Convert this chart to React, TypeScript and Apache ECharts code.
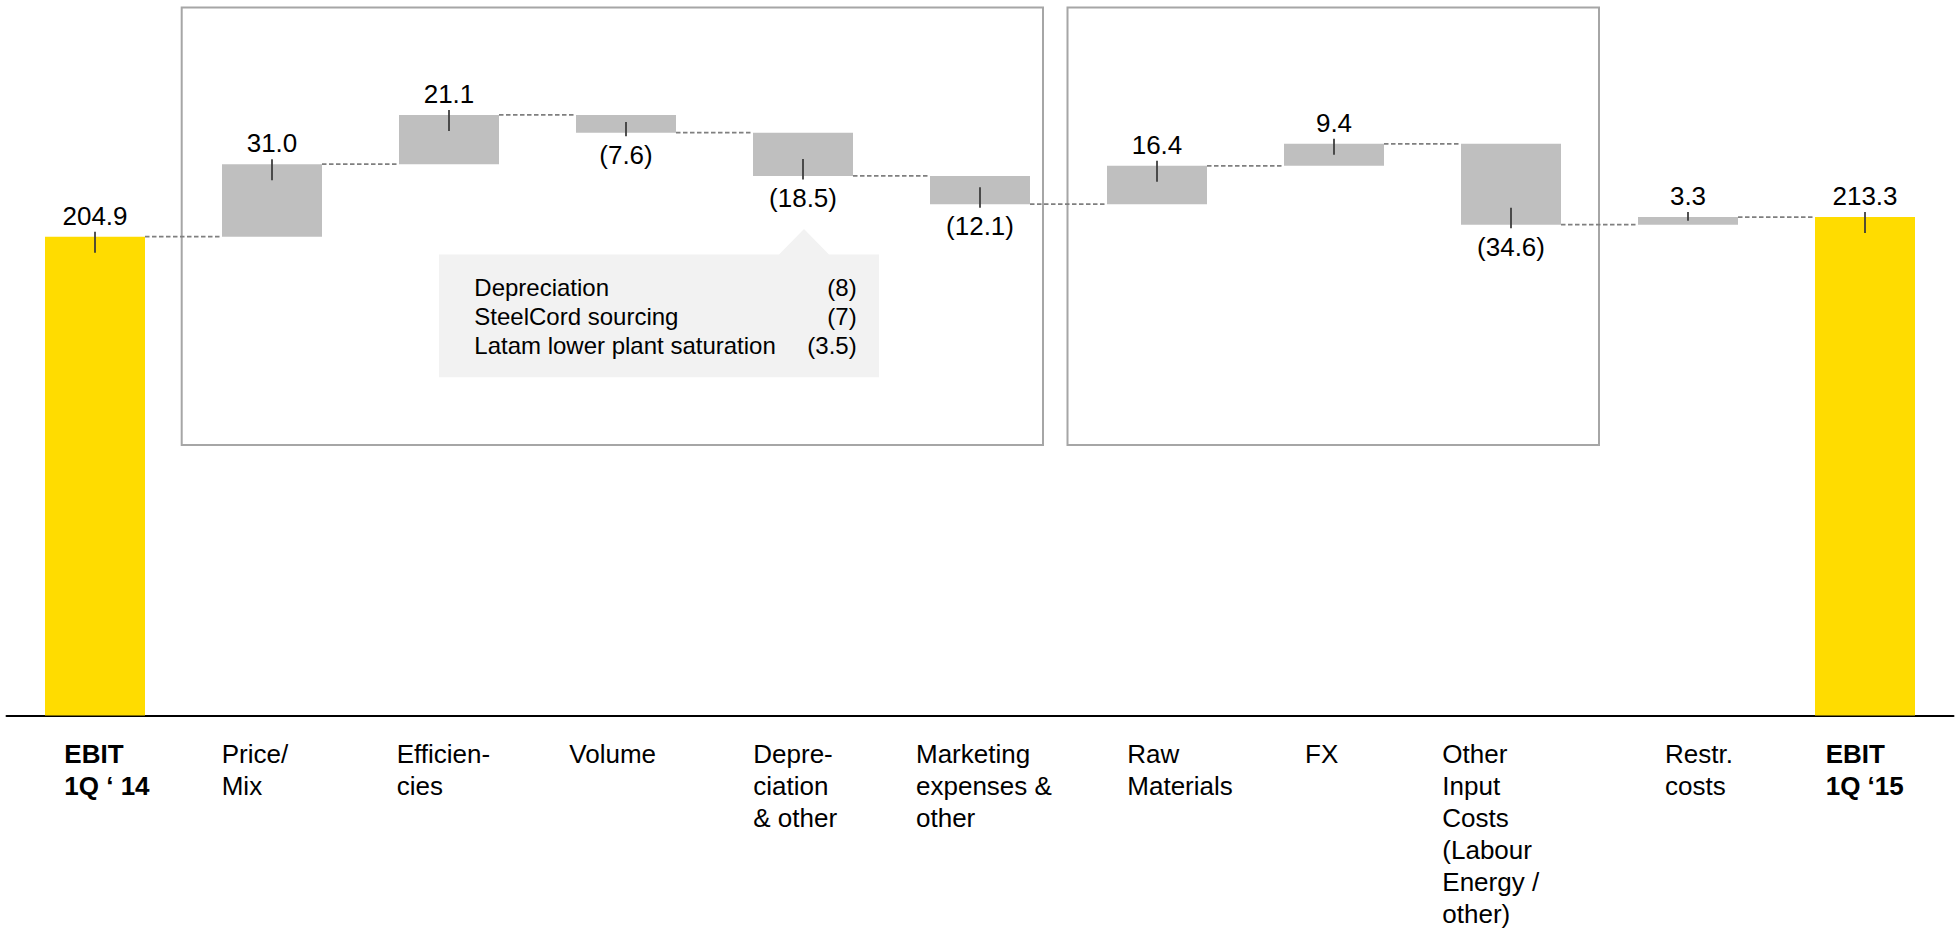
import React, { useEffect, useRef } from 'react';
import * as echarts from 'echarts';

// EBIT bridge 1Q '14 -> 1Q '15
const categories = [
  'EBIT\n1Q ‘ 14',
  'Price/\nMix',
  'Efficien-\ncies',
  'Volume',
  'Depre-\nciation\n& other',
  'Marketing\nexpenses &\nother',
  'Raw\nMaterials',
  'FX',
  'Other\nInput\nCosts\n(Labour\nEnergy /\nother)',
  'Restr.\ncosts',
  'EBIT\n1Q ‘15',
];
const changes = [204.9, 31.0, 21.1, -7.6, -18.5, -12.1, 16.4, 9.4, -34.6, 3.3, 213.3];
const isTotal = [true, false, false, false, false, false, false, false, false, false, true];

// Breakdown of the depreciation & other step
const breakdownItems = ['Depreciation', 'SteelCord sourcing', 'Latam lower plant saturation'];
const breakdownValues = [-8, -7, -3.5];

// Horizontal offset of each category caption from its bar centre (px)
const captionOffsets = [-30.7, -50.3, -52.3, -56.7, -49.7, -64, -29.7, -29, -68.7, -23, -39.3];

const FONT = '"Liberation Sans", Arial, Helvetica, sans-serif';
const YELLOW = '#ffdc00';
const GREY = '#bfbfbf';

const fmtValue = (v: number) => (v < 0 ? `(${Math.abs(v).toFixed(1)})` : v.toFixed(1));
const fmtShort = (v: number) => (v < 0 ? `(${Math.abs(v)})` : `${v}`);

// Waterfall geometry: invisible base + visible step
const bases: number[] = [];
const heights: number[] = [];
const levels: number[] = [];
{
  let run = 0;
  changes.forEach((v, i) => {
    if (isTotal[i]) {
      bases.push(0);
      heights.push(v);
      run = v;
    } else {
      const next = run + v;
      bases.push(Math.min(run, next));
      heights.push(Math.abs(v));
      run = next;
    }
    levels.push(run);
  });
}

const BAR_W = 100;

export default function App() {
  const ref = useRef<HTMLDivElement>(null);

  useEffect(() => {
    if (!ref.current) return;
    const chart = echarts.init(ref.current, undefined, { renderer: 'svg' });

    chart.setOption({
      animation: false,
      grid: { left: 6.5, right: 2.5, top: 14.4, bottom: 216.5 },
      xAxis: {
        type: 'category',
        data: categories,
        axisLine: { show: true, lineStyle: { color: '#000', width: 2 } },
        axisTick: { show: false },
        axisLabel: { show: false },
        splitLine: { show: false },
      },
      yAxis: {
        type: 'value',
        min: 0,
        max: 300,
        show: false,
        splitLine: { show: false },
      },
      series: [
        {
          name: 'base',
          type: 'bar',
          stack: 'bridge',
          barWidth: BAR_W,
          itemStyle: { color: 'transparent' },
          emphasis: { disabled: true },
          silent: true,
          data: bases,
        },
        {
          name: 'step',
          type: 'bar',
          stack: 'bridge',
          barWidth: BAR_W,
          silent: true,
          label: {
            show: true,
            fontFamily: FONT,
            fontSize: 26,
            color: '#000',
            formatter: (p: any) => fmtValue(changes[p.dataIndex]),
          },
          data: heights.map((h, i) => ({
            value: h,
            itemStyle: { color: isTotal[i] ? YELLOW : GREY },
            label: {
              position: changes[i] < 0 ? 'bottom' : 'top',
              distance: changes[i] < 0 ? 9 : 8,
            },
          })),
        },
        {
          // dashed connectors between consecutive steps
          name: 'connectors',
          type: 'custom',
          silent: true,
          z: 3,
          encode: { x: 0, y: 1 },
          data: levels.slice(0, -1).map((lv, i) => [i, lv]),
          renderItem: (_params: any, api: any) => {
            const i = api.value(0);
            const lv = api.value(1);
            const a = api.coord([i, lv]);
            const b = api.coord([i + 1, lv]);
            return {
              type: 'line',
              shape: { x1: a[0] + BAR_W / 2, y1: a[1], x2: b[0] - BAR_W / 2, y2: a[1] },
              style: { stroke: '#7f7f7f', lineWidth: 1.75, lineDash: [4.5, 2.5] },
            };
          },
        },
        {
          // short leader ticks from value labels into the bars
          name: 'ticks',
          type: 'custom',
          silent: true,
          z: 4,
          encode: { x: 0, y: 1 },
          data: levels.map((lv, i) => [i, lv]),
          renderItem: (_params: any, api: any) => {
            const i = api.value(0);
            const top = api.coord([i, bases[i] + heights[i]]);
            const bottom = api.coord([i, bases[i]]);
            const h = bottom[1] - top[1];
            let y1: number;
            let y2: number;
            if (changes[i] >= 0) {
              y1 = top[1] - 5;
              y2 = top[1] + Math.min(16, h * 0.5);
            } else {
              y1 = bottom[1] + 3.5;
              y2 = bottom[1] - Math.min(17, h * 0.6);
            }
            return {
              type: 'line',
              shape: { x1: top[0], y1, x2: top[0], y2 },
              style: { stroke: '#3a3a3a', lineWidth: 1.75 },
            };
          },
        },
      ],
    });

    const captions = categories.map((c, i) => {
      const cx = chart.convertToPixel({ xAxisIndex: 0 }, i) as number;
      return {
        type: 'text',
        x: cx + captionOffsets[i],
        y: 738,
        style: {
          text: c,
          fontFamily: FONT,
          fontSize: 26,
          fontWeight: isTotal[i] ? 'bold' : 'normal',
          fill: '#000',
          lineHeight: 32,
          align: 'left',
          verticalAlign: 'top',
        },
      };
    });

    const lineYs = [287.4, 316.7, 345.7];
    const breakdownTexts = breakdownItems.flatMap((name, k) => [
      {
        type: 'text',
        x: 474.3,
        y: lineYs[k],
        style: { text: name, fontFamily: FONT, fontSize: 24, fill: '#000', align: 'left', verticalAlign: 'middle' },
      },
      {
        type: 'text',
        x: 856.7,
        y: lineYs[k],
        style: {
          text: fmtShort(breakdownValues[k]),
          fontFamily: FONT,
          fontSize: 24,
          fill: '#000',
          align: 'right',
          verticalAlign: 'middle',
        },
      },
    ]);

    chart.setOption({
      graphic: [
        {
          type: 'rect',
          shape: { x: 181.7, y: 7.5, width: 861.3, height: 437.5 },
          style: { fill: 'none', stroke: '#a6a6a6', lineWidth: 2 },
          silent: true,
        },
        {
          type: 'rect',
          shape: { x: 1067.5, y: 7.5, width: 531.5, height: 437.5 },
          style: { fill: 'none', stroke: '#a6a6a6', lineWidth: 2 },
          silent: true,
        },
        {
          type: 'polygon',
          shape: {
            points: [
              [439, 254.5],
              [779, 254.5],
              [804, 229],
              [829, 254.5],
              [879, 254.5],
              [879, 377.3],
              [439, 377.3],
            ],
          },
          style: { fill: '#f2f2f2' },
          silent: true,
          z: -1,
        },
        ...breakdownTexts,
        ...captions,
      ],
    });

    return () => chart.dispose();
  }, []);

  return (
    <div
      ref={ref}
      style={{ position: 'absolute', left: 0, top: 0, width: 1956, height: 932, background: '#fff' }}
    />
  );
}
